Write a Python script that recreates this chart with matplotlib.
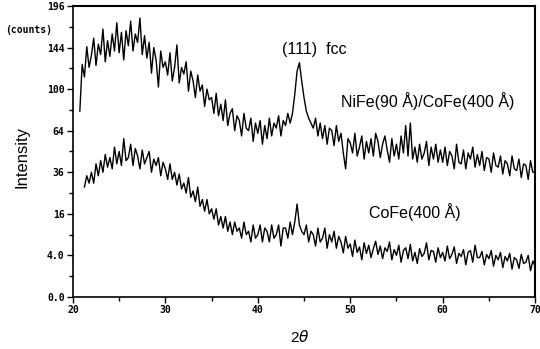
import numpy as np
import matplotlib
matplotlib.use('Agg')
import matplotlib.pyplot as plt

# scan points, 0.25 deg steps
two_theta_nife = np.arange(20.75, 70.01, 0.25)
two_theta_cofe = np.arange(21.25, 70.01, 0.25)

# NiFe(90A)/CoFe(400A), counts
counts_nife = [
    80,
    125, 112, 145, 122,
    135, 155, 124, 148,
    136, 166, 128, 152,
    134, 160, 140, 174,
    138, 162, 130, 164,
    146, 176, 140, 160,
    150, 180, 136, 158,
    132, 150, 116, 144,
    130, 102, 140, 122,
    128, 114, 138, 108,
    122, 147, 106, 122,
    115, 128, 98, 118,
    108, 92, 114, 98,
    104, 84, 100, 90,
    92, 78, 96, 76,
    86, 72, 90, 68,
    78, 82, 64, 76,
    72, 60, 78, 66,
    64, 74, 56, 70,
    62, 72, 54, 68,
    58, 74, 60, 70,
    66, 76, 60, 72,
    68, 78, 70, 78,
    95, 118, 127, 108,
    92, 80, 74, 70,
    66, 74, 60, 70,
    58, 68, 54, 66,
    64, 53, 68, 56,
    62, 48, 38, 58,
    55, 48, 62, 46,
    52, 60, 44, 56,
    48, 58, 46, 62,
    56, 45, 54, 60,
    50, 42, 58, 46,
    54, 44, 60, 48,
    68, 46, 70, 44,
    52, 42, 54, 44,
    48, 56, 40, 52,
    44, 54, 42, 50,
    42, 52, 40, 49,
    46, 38, 54, 42,
    41, 50, 38, 48,
    44, 52, 39, 47,
    40, 49, 37, 45,
    44, 36, 48, 40,
    39, 46, 35, 43,
    41, 34, 46, 38,
    37, 44, 33, 41,
    40, 32, 43, 36,
    36,
]

# CoFe(400A), counts
counts_cofe = [
    28, 34, 30,
    36, 30, 41, 34,
    43, 36, 47, 39,
    45, 38, 52, 41,
    49, 40, 58, 43,
    45, 54, 40, 51,
    46, 38, 50, 41,
    45, 49, 36, 44,
    40, 45, 34, 42,
    38, 32, 41, 32,
    36, 29, 35, 27,
    30, 25, 33, 23,
    26, 21, 28, 19,
    22, 17, 22, 16,
    18, 14, 18, 12,
    15, 11, 15, 10,
    13, 9, 13, 10,
    11, 8, 13, 9,
    10, 7, 12, 8,
    9, 12, 7, 11,
    10, 7, 12, 8,
    9, 12, 6, 11,
    11, 8, 13, 9,
    13, 20, 12, 10,
    9, 12, 7, 10,
    9, 6, 11, 7,
    8, 11, 5.5, 9,
    7, 10, 5.5, 8.5,
    7, 4.5, 8.5, 5.5,
    6.5, 3.8, 7.5, 4.6,
    5.8, 3.2, 6.8, 4.4,
    6.2, 3.6, 5.4, 7.2,
    4.2, 6, 3.4, 5.6,
    4.8, 7, 3.2, 5.2,
    4, 6.2, 2.8, 5,
    5.6, 3.4, 6.4, 3,
    4.6, 2.6, 5.4, 3.8,
    4.4, 6.8, 3.2, 5,
    4.8, 2.8, 5.6, 3.6,
    4.6, 3, 6, 3.4,
    4.2, 5.8, 2.6, 4.4,
    3.8, 5.2, 2.4, 4.6,
    5, 2.8, 6.2, 3.6,
    3.6, 4.8, 2.4, 4.2,
    3.4, 5, 2.2, 4,
    3.2, 4.6, 2, 3.8,
    3, 4.4, 1.8, 3.6,
    3.2, 1.9, 4.2, 2.6,
    2.8, 4, 1.6, 3,
    2.2,
]

y_ticks = [0, 4, 16, 36, 64, 100, 144, 196]
y_tick_labels = ['0.0', '4.0', '16', '36', '64', '100', '144', '196']
y_minor = [1, 9, 25, 49, 81, 121, 169]
x_ticks = [20, 30, 40, 50, 60, 70]
x_minor = [25, 35, 45, 55, 65]

fig = plt.figure(figsize=(5.4, 3.49), dpi=100)
ax = fig.add_axes([0.135, 0.149, 0.856, 0.834])

ax.plot(two_theta_nife, counts_nife, color='k', linewidth=1.0)
ax.plot(two_theta_cofe, counts_cofe, color='k', linewidth=1.0)

ax.set_yscale('function', functions=(lambda v: np.sqrt(np.clip(v, 0, None)),
                                     lambda v: v ** 2))
ax.set_xlim(20, 70)
ax.set_ylim(0, 196)

mono = dict(family='DejaVu Sans Mono', weight='bold', size=7)
ax.set_yticks(y_ticks)
ax.set_yticklabels(y_tick_labels, fontdict=mono)
ax.set_yticks(y_minor, minor=True)
ax.set_xticks(x_ticks)
ax.set_xticklabels([str(v) for v in x_ticks], fontdict=mono)
ax.set_xticks(x_minor, minor=True)
ax.tick_params(axis='both', which='major', direction='out', length=4, width=1, pad=2)
ax.tick_params(axis='both', which='minor', direction='out', length=3, width=1)

for side in ['left', 'bottom']:
    ax.spines[side].set_linewidth(1.2)
for side in ['top', 'right']:
    ax.spines[side].set_linewidth(1.5)

fig.text(0.01, 0.905, '(counts)', fontdict=dict(family='DejaVu Sans Mono',
                                                 weight='bold', size=7))
fig.text(0.04, 0.55, 'Intensity', rotation=90, ha='center', va='center',
         family='Liberation Sans', fontsize=12)
fig.text(0.555, 0.035, r'2$\theta$', ha='center', va='center',
         family='Liberation Sans', fontsize=11)

txt = dict(family='Liberation Sans', fontsize=11.5, ha='left', va='center')
ax.text(0.452, 0.85, '(111)  fcc', transform=ax.transAxes, **txt)
ax.text(0.58, 0.672, 'NiFe(90 Å)/CoFe(400 Å)', transform=ax.transAxes, **txt)
ax.text(0.64, 0.293, 'CoFe(400 Å)', transform=ax.transAxes, **txt)

fig.savefig('out.png', dpi=100)
